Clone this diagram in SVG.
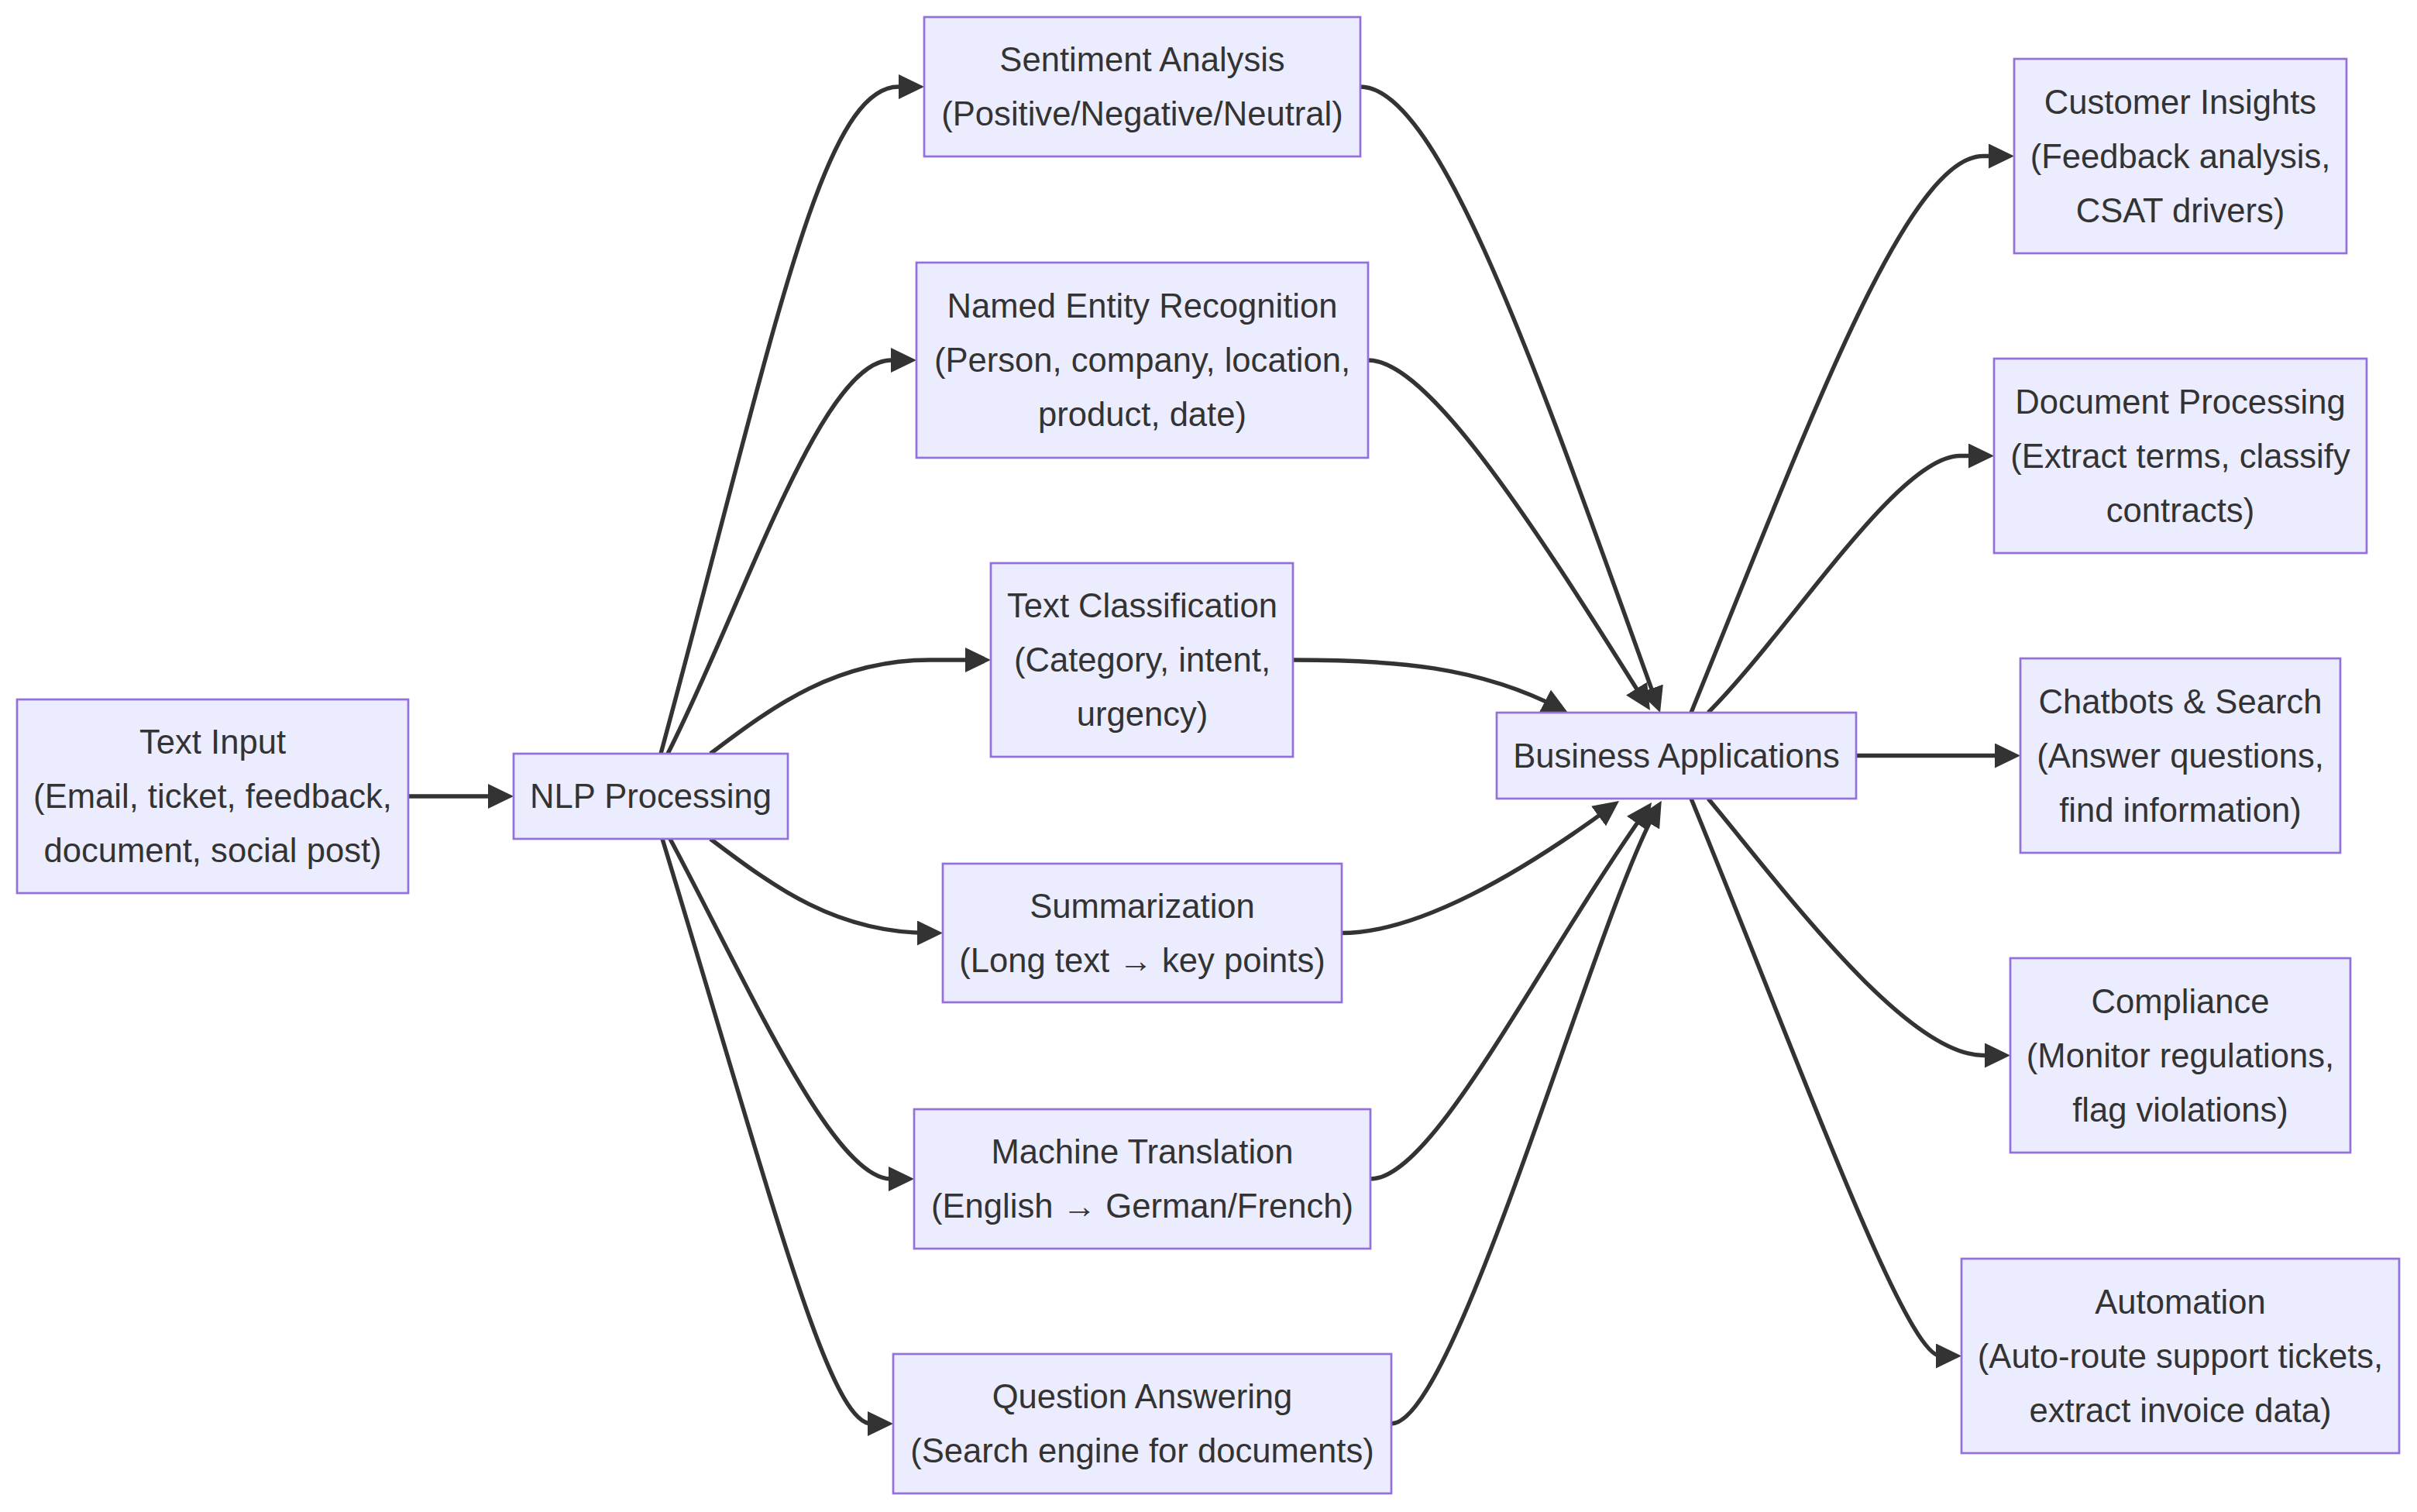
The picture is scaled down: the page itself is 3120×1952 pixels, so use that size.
<svg xmlns="http://www.w3.org/2000/svg" width="3120" height="1952" viewBox="0 0 3120 1952">
<style>
.node rect{fill:#ECECFF;stroke:#9370DB;stroke-width:2.7}
.node text{font-family:"Liberation Sans",Arial,sans-serif;font-size:43.6px;fill:#333333;text-anchor:middle}
.edges path{fill:none;stroke:#333333;stroke-width:5.4;marker-end:url(#arrow)}
</style>
<defs>
<marker id="arrow" markerUnits="userSpaceOnUse" viewBox="0 0 33 32" markerWidth="33" markerHeight="32" refX="23" refY="16" orient="auto">
<path d="M0,0 L33,16 L0,32 z" fill="#333333"/>
</marker>
</defs>
<rect width="3120" height="1952" fill="#ffffff"/>
<g id="connectors" class="edges">
<path d="M527,1028 L653,1028"/>
<path d="M853,973 C1000,430 1060,112 1160,112 L1183,112"/>
<path d="M862,973 C960,780 1060,465 1150,465 L1173,465"/>
<path d="M917,973 C1000,910 1080,852 1200,852 L1269,852"/>
<path d="M917,1083 C1000,1146 1080,1204.5 1200,1204.5 L1207,1204.5"/>
<path d="M865,1083 C965,1270 1075,1522 1150,1522 L1170,1522"/>
<path d="M855,1083 C1000,1560 1070,1838 1125,1838 L1143,1838"/>
<path d="M1756,112 C1860,112 1990,497 2139.6,910.6"/>
<path d="M1766,465 C1840,465 1965.7,654 2124.7,908.5"/>
<path d="M1669,852 C1800,852 1908.4,860 2015,915.4"/>
<path d="M1732,1204.5 C1830,1204.5 1962,1128.4 2082,1039.9"/>
<path d="M1769,1522 C1850,1522 1982,1248 2126.2,1044.2"/>
<path d="M1796,1838 C1880,1838 2060,1180 2139.8,1042.5"/>
<path d="M2183,920 C2330,560 2460,201.5 2560,201.5 L2590,201.5"/>
<path d="M2205,920 C2310,815 2450,588.5 2530,588.5 L2564,588.5"/>
<path d="M2396,975.5 L2598,975.5"/>
<path d="M2205,1031 C2300,1145 2460,1362.5 2560,1362.5 L2585,1362.5"/>
<path d="M2183,1031 C2330,1390 2460,1750.5 2505,1750.5 L2522,1750.5"/>
</g>
<g id="text-input" class="node">
<rect x="22" y="903" width="505" height="250"/>
<text><tspan x="274.5" y="973">Text Input</tspan><tspan x="274.5" y="1043">(Email, ticket, feedback,</tspan><tspan x="274.5" y="1113">document, social post)</tspan></text>
</g>
<g id="nlp" class="node">
<rect x="663" y="973" width="354" height="110"/>
<text x="840" y="1043">NLP Processing</text>
</g>
<g id="sentiment" class="node">
<rect x="1193" y="22" width="563" height="180"/>
<text><tspan x="1474.5" y="92">Sentiment Analysis</tspan><tspan x="1474.5" y="162">(Positive/Negative/Neutral)</tspan></text>
</g>
<g id="ner" class="node">
<rect x="1183" y="339" width="583" height="252"/>
<text><tspan x="1474.5" y="410">Named Entity Recognition</tspan><tspan x="1474.5" y="480">(Person, company, location,</tspan><tspan x="1474.5" y="550">product, date)</tspan></text>
</g>
<g id="text-class" class="node">
<rect x="1279" y="727" width="390" height="250"/>
<text><tspan x="1474.5" y="797">Text Classification</tspan><tspan x="1474.5" y="867">(Category, intent,</tspan><tspan x="1474.5" y="937">urgency)</tspan></text>
</g>
<g id="summarization" class="node">
<rect x="1217" y="1115" width="515" height="179"/>
<text><tspan x="1474.5" y="1184.5">Summarization</tspan><tspan x="1474.5" y="1254.5">(Long text → key points)</tspan></text>
</g>
<g id="translation" class="node">
<rect x="1180" y="1432" width="589" height="180"/>
<text><tspan x="1474.5" y="1502">Machine Translation</tspan><tspan x="1474.5" y="1572">(English → German/French)</tspan></text>
</g>
<g id="qa" class="node">
<rect x="1153" y="1748" width="643" height="180"/>
<text><tspan x="1474.5" y="1818">Question Answering</tspan><tspan x="1474.5" y="1888">(Search engine for documents)</tspan></text>
</g>
<g id="business" class="node">
<rect x="1932" y="920" width="464" height="111"/>
<text x="2164" y="990.5">Business Applications</text>
</g>
<g id="customer" class="node">
<rect x="2600" y="76" width="429" height="251"/>
<text><tspan x="2814.5" y="146.5">Customer Insights</tspan><tspan x="2814.5" y="216.5">(Feedback analysis,</tspan><tspan x="2814.5" y="286.5">CSAT drivers)</tspan></text>
</g>
<g id="document" class="node">
<rect x="2574" y="463" width="481" height="251"/>
<text><tspan x="2814.5" y="533.5">Document Processing</tspan><tspan x="2814.5" y="603.5">(Extract terms, classify</tspan><tspan x="2814.5" y="673.5">contracts)</tspan></text>
</g>
<g id="chatbots" class="node">
<rect x="2608" y="850" width="413" height="251"/>
<text><tspan x="2814.5" y="920.5">Chatbots &amp; Search</tspan><tspan x="2814.5" y="990.5">(Answer questions,</tspan><tspan x="2814.5" y="1060.5">find information)</tspan></text>
</g>
<g id="compliance" class="node">
<rect x="2595" y="1237" width="439" height="251"/>
<text><tspan x="2814.5" y="1307.5">Compliance</tspan><tspan x="2814.5" y="1377.5">(Monitor regulations,</tspan><tspan x="2814.5" y="1447.5">flag violations)</tspan></text>
</g>
<g id="automation" class="node">
<rect x="2532" y="1625" width="565" height="251"/>
<text><tspan x="2814.5" y="1695.5">Automation</tspan><tspan x="2814.5" y="1765.5">(Auto-route support tickets,</tspan><tspan x="2814.5" y="1835.5">extract invoice data)</tspan></text>
</g>
</svg>
